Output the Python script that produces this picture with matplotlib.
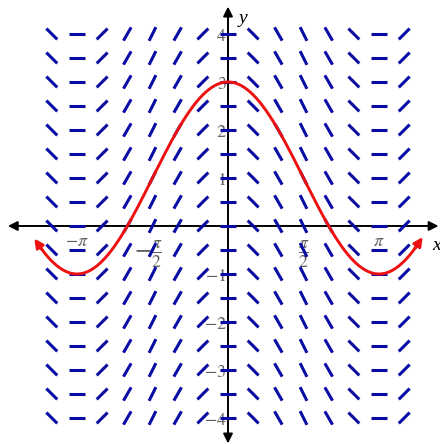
import numpy as np
import matplotlib
matplotlib.use('Agg')
import matplotlib.pyplot as plt
from matplotlib.collections import LineCollection

plt.rcParams['mathtext.fontset'] = 'stix'
plt.rcParams['font.family'] = ['Liberation Serif', 'DejaVu Serif']

# slope field dy/dx = -2 sin(x), sampled on x = k*pi/6, y = -4..4 step 0.5
col_k = [-7, -6, -5, -4, -3, -2, -1, 0, 1, 2, 3, 4, 5, 6, 7]
col_slopes = [-1.0, 0.0, 1.0, 1.732, 2.0, 1.732, 1.0, 0.0,
              -1.0, -1.732, -2.0, -1.732, -1.0, 0.0, 1.0]
row_y = [-4, -3.5, -3, -2.5, -2, -1.5, -1, -0.5, 0,
         0.5, 1, 1.5, 2, 2.5, 3, 3.5, 4]

# solution curve y = 2 cos(x) + 1
amp = 2.0
offset = 1.0
curve_x_range = (-4.03, 4.05)

x_tick_vals = [-np.pi, -np.pi / 2, np.pi / 2, np.pi]
x_tick_text = [r'$-\pi$', r'$-\frac{\pi}{2}$', r'$\frac{\pi}{2}$', r'$\pi$']
y_tick_vals = [-4, -3, -2, -1, 1, 2, 3, 4]

blue = '#0a0aa5'
red = '#ee1111'
gray = '#606060'

fig = plt.figure(figsize=(4.4, 4.44), dpi=100)
ax = fig.add_axes([0, 0, 1, 1])
ax.set_xlim(-4.743, 4.410)
ax.set_ylim(-4.542, 4.708)
ax.axis('off')

# slope segments
seg_len = 0.32
segs = []
for k, m in zip(col_k, col_slopes):
    x0 = k * np.pi / 6
    dx = seg_len / 2 / np.sqrt(1 + m * m)
    for y0 in row_y:
        segs.append([(x0 - dx, y0 - m * dx), (x0 + dx, y0 + m * dx)])
ax.add_collection(LineCollection(segs, colors=blue, linewidths=2.2,
                                 capstyle='butt', zorder=3))

# axes with arrows
ax.annotate('', xy=(4.38, 0), xytext=(-4.58, 0),
            arrowprops=dict(arrowstyle='<|-|>', color='black', lw=1.4,
                            mutation_scale=14, shrinkA=0, shrinkB=0), zorder=2)
ax.annotate('', xy=(0, 4.57), xytext=(0, -4.53),
            arrowprops=dict(arrowstyle='<|-|>', color='black', lw=1.4,
                            mutation_scale=14, shrinkA=0, shrinkB=0), zorder=2)
ax.text(0.22, 4.33, 'y', fontsize=14, style='italic', ha='left', va='center')
ax.text(4.25, -0.40, 'x', fontsize=14, style='italic', ha='left', va='center')

# tick labels
for v, t in zip(x_tick_vals, x_tick_text):
    if abs(abs(v) - np.pi) < 1e-6:
        ax.text(v, -0.33, t, fontsize=13, color=gray, ha='center', va='center', zorder=1)
    else:
        xx = v - 0.08 if v < 0 else v
        ax.text(xx, -0.6, t, fontsize=18, color=gray, ha='center', va='center', zorder=1)
for v in y_tick_vals:
    lab = r'$%d$' % v if v > 0 else r'$-%d$' % (-v)
    ax.text(-0.03, v - 0.05, lab, fontsize=13, color=gray, ha='right', va='center', zorder=1)

# solution curve
xs = np.linspace(curve_x_range[0], curve_x_range[1], 400)
ys = amp * np.cos(xs) + offset
ax.plot(xs[3:-3], ys[3:-3], color=red, lw=2.1, zorder=4, solid_capstyle='butt')
ax.annotate('', xy=(xs[0], ys[0]), xytext=(xs[8], ys[8]),
            arrowprops=dict(arrowstyle='-|>', color=red, lw=2.1,
                            mutation_scale=13, shrinkA=0, shrinkB=0), zorder=4)
ax.annotate('', xy=(xs[-1], ys[-1]), xytext=(xs[-9], ys[-9]),
            arrowprops=dict(arrowstyle='-|>', color=red, lw=2.1,
                            mutation_scale=13, shrinkA=0, shrinkB=0), zorder=4)

fig.savefig('out.png', dpi=100)
